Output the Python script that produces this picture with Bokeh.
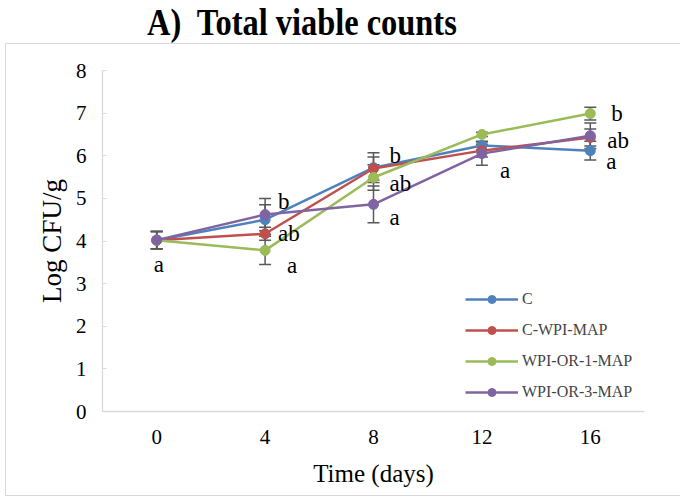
from bokeh.plotting import figure
from bokeh.layouts import column
from bokeh.models import (ColumnDataSource, Whisker, TeeHead, FixedTicker,
                          Range1d, Legend, LegendItem, Div)
from bokeh.core.properties import value
from bokeh.embed import file_html
from bokeh.resources import INLINE

# Storage time (days)
days = [0, 4, 8, 12, 16]

# Mean total viable counts (log CFU/g) per treatment
c_mean = [4.02, 4.50, 5.72, 6.24, 6.12]
c_wpi_mean = [4.02, 4.17, 5.70, 6.12, 6.43]
wpi_or1_mean = [4.02, 3.78, 5.49, 6.50, 6.99]
wpi_or3_mean = [4.02, 4.62, 4.86, 6.05, 6.47]

# Standard deviations
c_sd = [0.20, 0.35, 0.35, 0.10, 0.22]
c_wpi_sd = [0.20, 0.15, 0.27, 0.15, 0.20]
wpi_or1_sd = [0.20, 0.33, 0.30, 0.05, 0.15]
wpi_or3_sd = [0.20, 0.38, 0.43, 0.27, 0.30]

series_names = ["C", "C-WPI-MAP", "WPI-OR-1-MAP", "WPI-OR-3-MAP"]
series_means = [c_mean, c_wpi_mean, wpi_or1_mean, wpi_or3_mean]
series_sds = [c_sd, c_wpi_sd, wpi_or1_sd, wpi_or3_sd]
series_colors = ["#4F81BD", "#C0504D", "#9BBB59", "#8064A2"]

# Significance letters: day, height (log CFU/g), letter, horizontal nudge (px)
letter_day = [0, 4, 4, 4, 8, 8, 8, 12, 16, 16, 16]
letter_y = [3.45, 4.93, 4.18, 3.43, 6.00, 5.35, 4.55, 5.65, 6.99, 6.36, 5.87]
letter_text = ["a", "b", "ab", "a", "b", "ab", "a", "a", "b", "ab", "a"]
letter_dx = [-3, 13, 13, 22, 16, 16, 16, 18, 21, 17, 16]

y_ticks = [0, 1, 2, 3, 4, 5, 6, 7, 8]

SERIF = "Liberation Serif"
AXIS_GREY = "#d9d9d9"

p = figure(width=675, height=453, output_backend="svg", toolbar_location=None,
           x_range=Range1d(-2, 18), y_range=Range1d(0, 8),
           min_border_left=96, min_border_right=37, min_border_top=26,
           min_border_bottom=86)
p.margin = (0, 0, 0, 5)
p.styles = {"border-top": "1px solid #d9d9d9", "border-left": "1px solid #d9d9d9",
            "border-bottom": "1px solid #d9d9d9"}
p.outline_line_color = None
p.grid.grid_line_color = None
p.background_fill_color = "white"
p.border_fill_color = "white"

p.xaxis.ticker = FixedTicker(ticks=days)
p.yaxis.ticker = FixedTicker(ticks=y_ticks)
for ax in (p.xaxis[0], p.yaxis[0]):
    ax.axis_line_color = AXIS_GREY
    ax.axis_line_width = 1.3
    ax.major_tick_line_color = AXIS_GREY
    ax.minor_tick_line_color = None
    ax.major_label_text_font = SERIF
    ax.major_label_text_font_size = "21px"
    ax.major_label_text_color = "black"
    ax.axis_label_text_font = SERIF
    ax.axis_label_text_font_style = "normal"
    ax.axis_label_text_color = "black"
p.xaxis.major_tick_out = 0
p.xaxis.major_tick_in = 0
p.yaxis.major_tick_out = 0
p.yaxis.major_tick_in = 4
p.yaxis.major_label_standoff = 16
p.xaxis.major_label_standoff = 18
p.xaxis.axis_label = "Time (days)"
p.yaxis.axis_label = "Log CFU/g"
p.xaxis.axis_label_text_font_size = "25px"
p.yaxis.axis_label_text_font_size = "27px"
p.xaxis.axis_label_standoff = 13
p.yaxis.axis_label_standoff = 6

items = []
for name, means, sds, color in zip(series_names, series_means, series_sds, series_colors):
    src = ColumnDataSource(dict(
        x=days, y=means,
        upper=[m + s for m, s in zip(means, sds)],
        lower=[m - s for m, s in zip(means, sds)],
    ))
    w = Whisker(source=src, base="x", upper="upper", lower="lower",
                line_color="#595959", line_width=1.5,
                upper_head=TeeHead(size=12, line_color="#595959", line_width=1.5),
                lower_head=TeeHead(size=12, line_color="#595959", line_width=1.5))
    p.add_layout(w)
    ln = p.line("x", "y", source=src, line_color=color, line_width=2.5)
    mk = p.scatter("x", "y", source=src, size=10, fill_color=color, line_color=color)
    items.append(LegendItem(label=name, renderers=[ln, mk]))

legend = Legend(items=items, location=(363, 9), padding=0, margin=0,
                spacing=11, glyph_width=53, glyph_height=20, label_height=20,
                label_standoff=4, label_text_font=SERIF, label_text_font_size="16px",
                border_line_color=None, background_fill_alpha=0)
p.add_layout(legend, "center")

letters = ColumnDataSource(dict(x=letter_day, y=letter_y, t=letter_text, dx=letter_dx))
p.text("x", "y", text="t", x_offset="dx", source=letters,
       text_font=value(SERIF), text_font_size="23px", text_color="black",
       text_baseline="middle", text_align="left")

title = Div(text="A)&nbsp; Total viable counts", width=681, height=43, margin=0,
            styles={"font-family": SERIF, "font-size": "37px", "font-weight": "bold",
                    "line-height": "46px", "color": "black", "white-space": "nowrap",
                    "transform": "translateX(147px) scaleX(0.876)",
                    "transform-origin": "left top"})

layout = column(title, p, spacing=0)
open("out.html", "w").write(file_html(layout, INLINE))
